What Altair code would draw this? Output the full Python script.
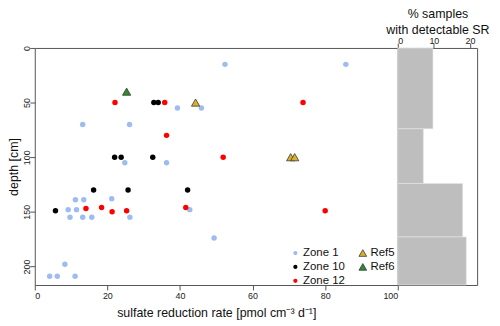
import altair as alt
import pandas as pd

# ---- data ----
zone1_x = [52.4, 85.7, 39.3, 45.9, 13.2, 26.1, 24.8, 36.3, 11.2, 13.5, 21.2, 9.2, 11.5, 42.7,
           9.7, 13.2, 15.7, 26.2, 49.4, 8.3, 4.1, 6.2, 11.1]
zone1_d = [15, 15, 55, 55, 70, 70, 105, 105, 139, 139, 138, 148, 148, 148,
           155, 155, 155, 155, 174, 198, 209, 209, 209]
zone10_x = [32.8, 34.0, 22.0, 23.8, 32.5, 16.2, 25.7, 42.1, 5.7]
zone10_d = [50, 50, 100, 100, 100, 130, 130, 130, 149]
zone12_x = [22.1, 35.8, 73.9, 36.3, 51.9, 14.1, 18.4, 21.3, 25.3, 41.6, 80.0]
zone12_d = [50, 50, 50, 80, 100, 147, 146, 150, 149, 146, 149]
ref5_x = [44.3, 70.5, 71.6]
ref5_d = [50, 100, 100]
ref6_x = [25.3]
ref6_d = [40]

bin_top = [0, 74, 124, 173]
bin_bottom = [74, 124, 173, 217]
pct_detect = [9.75, 7.1, 18.0, 19.0]

zones = ["Zone 1", "Zone 10", "Zone 12"]
zone_colors = ["#9DBDF0", "#000000", "#FF0000"]
refs = ["Ref5", "Ref6"]
ref_colors = ["#D9B02E", "#2E8B2E"]

pts = pd.DataFrame(
    [{"x": x, "d": d, "zone": "Zone 1"} for x, d in zip(zone1_x, zone1_d)]
    + [{"x": x, "d": d, "zone": "Zone 10"} for x, d in zip(zone10_x, zone10_d)]
    + [{"x": x, "d": d, "zone": "Zone 12"} for x, d in zip(zone12_x, zone12_d)]
)
tri = pd.DataFrame(
    [{"x": x, "d": d, "ref": "Ref5"} for x, d in zip(ref5_x, ref5_d)]
    + [{"x": x, "d": d, "ref": "Ref6"} for x, d in zip(ref6_x, ref6_d)]
)
bars = pd.DataFrame({"top": bin_top, "bottom": bin_bottom, "pct": pct_detect})

FONT = "Liberation Sans"
ydom = [0, 217]

yscale = alt.Scale(domain=ydom, reverse=True, nice=False, zero=False)
xscale = alt.Scale(domain=[0, 100], nice=False)

y_axis = alt.Axis(values=[0, 50, 100, 150, 200], title="depth [cm]", labelAngle=270,
                  labelAlign="center", labelBaseline="alphabetic", grid=False,
                  tickSize=5, labelPadding=0.5, titlePadding=2, domain=False)
x_axis = alt.Axis(values=[0, 20, 40, 60, 80, 100], title="sulfate reduction rate [pmol cm⁻³ d⁻¹]",
                  grid=False, tickSize=5, labelPadding=2, titlePadding=6, domain=False)

circles = alt.Chart(pts).mark_circle(size=30, opacity=1).encode(
    x=alt.X("x:Q", scale=xscale, axis=x_axis),
    y=alt.Y("d:Q", scale=yscale, axis=y_axis),
    color=alt.Color("zone:N", scale=alt.Scale(domain=zones, range=zone_colors),
                    legend=alt.Legend(title=None, orient="none", legendX=257, legendY=201,
                                      symbolType="circle", symbolSize=18, labelFontSize=11.5,
                                      labelFont=FONT, rowPadding=1, padding=0, labelOffset=2,
                                      labelColor="#111")),
)
triangles = alt.Chart(tri).mark_point(shape="triangle-up", filled=True, size=70, opacity=1,
                                      stroke="#3a3a3a", strokeWidth=0.8).encode(
    x=alt.X("x:Q", scale=xscale),
    y=alt.Y("d:Q", scale=yscale),
    fill=alt.Fill("ref:N", scale=alt.Scale(domain=refs, range=ref_colors),
                  legend=alt.Legend(title=None, orient="none", legendX=325, legendY=201,
                                    symbolType="triangle-up", symbolSize=60,
                                    symbolStrokeColor="#3a3a3a", symbolStrokeWidth=0.8,
                                    labelFontSize=11.5, labelFont=FONT, rowPadding=1,
                                    padding=0, labelOffset=2, labelColor="#111")),
)
main = alt.layer(circles, triangles).properties(width=366, height=239)

right = alt.Chart(bars).mark_rect(color="#BEBEBE", stroke="#E6E6E6", strokeWidth=0.6).encode(
    x=alt.X("pct:Q", scale=alt.Scale(domain=[0, 22], nice=False),
            axis=alt.Axis(orient="top", values=[0, 10, 20], grid=False, tickSize=5,
                          labelPadding=0, labelBaseline="alphabetic", titlePadding=0,
                          domain=False, title=["% samples", "with detectable SR"],
                          titleLineHeight=15.5)),
    x2="zero:Q",
    y=alt.Y("top:Q", scale=yscale, axis=None),
    y2="bottom:Q",
).transform_calculate(zero="0").properties(width=80, height=239)

chart = alt.hconcat(main, right, spacing=0, bounds="flush").resolve_scale(
    color="independent"
).configure(
    font=FONT, padding={"left": -1, "top": -2, "right": 2, "bottom": 2}
).configure_view(stroke="#555", strokeWidth=1).configure_axis(
    labelFont=FONT, titleFont=FONT, labelFontSize=9, titleFontSize=12.5,
    titleFontWeight="normal", labelColor="#222", titleColor="#111", tickColor="#555",
)

chart.save("out.html", embed_options={"renderer": "svg", "actions": False})
